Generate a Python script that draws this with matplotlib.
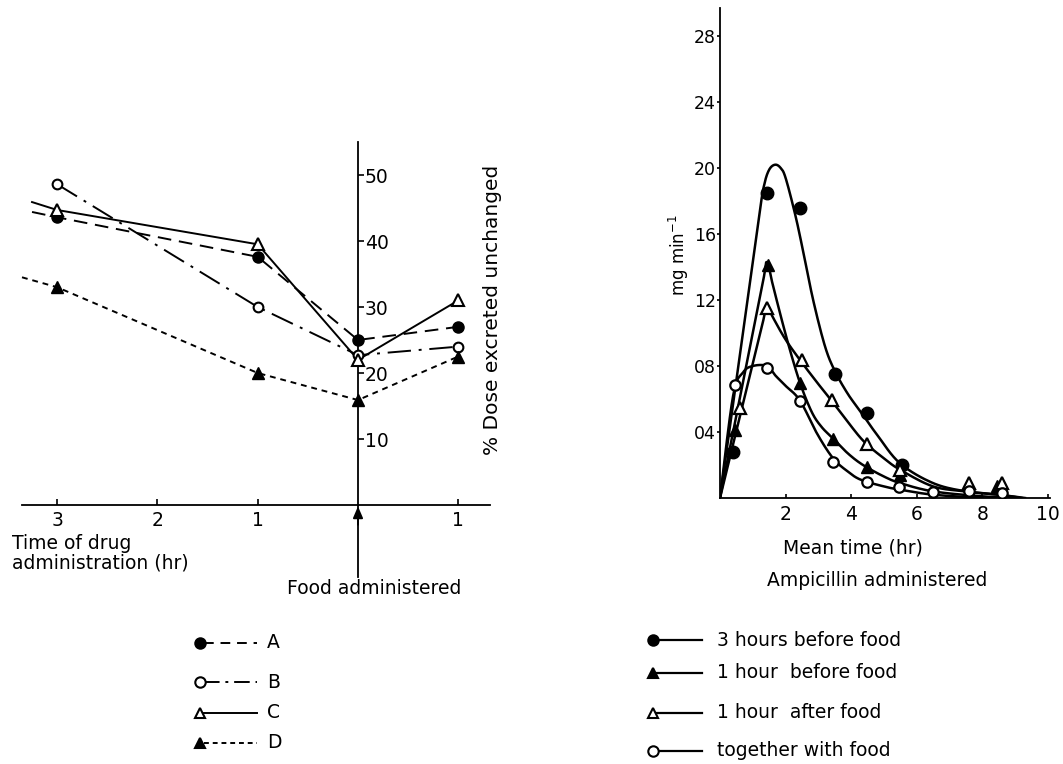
import numpy as np
import matplotlib
matplotlib.use("Agg")
import matplotlib.pyplot as plt

plt.rcParams['font.family'] = ['DejaVu Sans']

# ---------------- Left chart data ----------------
left_x = [-3, -1, 0, 1]
left_tick_pos = [-3, -2, -1, 1]
left_tick_labels = ['3', '2', '1', '1']
left_yticks = [10, 20, 30, 40, 50]
series_A = [43.6, 37.6, 25.0, 27.0]
series_B = [48.6, 30.0, 22.7, 24.0]
series_C = [44.7, 39.5, 22.0, 31.0]
series_D = [33.0, 20.0, 15.9, 22.5]
# where each drawn line starts (B starts at its first point)
lead_A = (-3.25, 44.4)
lead_C = (-3.25, 45.9)
lead_D = (-3.35, 34.5)
left_names = ['A', 'B', 'C', 'D']

# ---------------- Right chart data ----------------
right_xticks = [2, 4, 6, 8, 10]
right_yticks = [0.04, 0.08, 0.12, 0.16, 0.20, 0.24, 0.28]
right_ytick_labels = ['04', '08', '12', '16', '20', '24', '28']
right_names = ['3 hours before food', '1 hour  before food',
               '1 hour  after food', 'together with food']

p1_x = [0.4, 1.43, 2.44, 3.5, 4.48, 5.55]
p1_y = [0.028, 0.185, 0.176, 0.075, 0.0515, 0.020]
p2_x = [0.46, 1.47, 2.44, 3.45, 4.48, 5.5, 8.45]
p2_y = [0.041, 0.141, 0.0697, 0.0357, 0.0188, 0.014, 0.007]
p3_x = [0.61, 1.43, 2.5, 3.4, 4.48, 5.5, 7.6, 8.6]
p3_y = [0.0545, 0.115, 0.0836, 0.0594, 0.033, 0.017, 0.009, 0.009]
p4_x = [0.46, 1.43, 2.44, 3.45, 4.48, 5.45, 6.5, 7.6, 8.6]
p4_y = [0.0685, 0.079, 0.059, 0.0218, 0.0097, 0.0067, 0.0036, 0.004, 0.003]

c1_x = [0, 0.6, 1.2, 1.35, 1.5, 1.68, 1.85, 2.0, 2.29, 2.53, 2.84, 3.2, 3.5, 3.9, 4.3, 4.8, 5.49, 6.5, 7.5, 8.5, 9.2]
c1_y = [0, 0.086, 0.172, 0.19, 0.199, 0.202, 0.2, 0.194, 0.172, 0.150, 0.12, 0.092, 0.077, 0.063, 0.052, 0.038, 0.021, 0.009, 0.004, 0.002, 0.0]
c2_x = [0, 0.65, 1.3, 1.43, 1.6, 1.83, 2.1, 2.44, 2.8, 3.1, 3.45, 3.9, 4.36, 5.0, 5.5, 6.5, 8.0, 9.0]
c2_y = [0, 0.065, 0.13, 0.143, 0.13, 0.112, 0.092, 0.0697, 0.052, 0.043, 0.036, 0.027, 0.02, 0.013, 0.009, 0.004, 0.001, 0.0]
c3_x = [0, 0.7, 1.3, 1.43, 1.6, 2.0, 2.5, 3.0, 3.4, 3.9, 4.4, 5.0, 5.5, 6.5, 7.5, 8.5, 9.3]
c3_y = [0, 0.057, 0.106, 0.117, 0.11, 0.096, 0.082, 0.069, 0.059, 0.046, 0.034, 0.024, 0.017, 0.007, 0.004, 0.002, 0.0]
c4_x = [0, 0.4, 0.7, 1.0, 1.43, 1.7, 2.0, 2.44, 2.96, 3.45, 3.9, 4.3, 5.0, 5.5, 6.5, 8.0]
c4_y = [0, 0.062, 0.076, 0.08, 0.08, 0.074, 0.068, 0.059, 0.039, 0.024, 0.016, 0.011, 0.007, 0.005, 0.002, 0.0]


def smooth(xs, ys, n=16):
    P = np.column_stack([xs, ys]).astype(float)
    P = np.vstack([P[0], P, P[-1]])
    out = []
    t = np.linspace(0, 1, n, endpoint=False)[:, None]
    for i in range(1, len(P) - 2):
        p0, p1, p2, p3 = P[i - 1], P[i], P[i + 1], P[i + 2]
        seg = 0.5 * ((2 * p1) + (-p0 + p2) * t + (2 * p0 - 5 * p1 + 4 * p2 - p3) * t ** 2
                     + (-p0 + 3 * p1 - 3 * p2 + p3) * t ** 3)
        out.append(seg)
    out.append(P[-2][None, :])
    out = np.vstack(out)
    out[:, 1] = np.clip(out[:, 1], 0, None)
    return out[:, 0], out[:, 1]


W, H = 1063, 764
fig = plt.figure(figsize=(W / 100, H / 100), dpi=100)


def fx(px):
    return px / W


def fy(py):
    return 1 - py / H


TXT = 13.5
TICK = 13.5

# ---------------- Left axes ----------------
lx0, lx1 = -3.5, 1.5
ly0, ly1 = -12, 57
px_per_x = 100.3
px_per_y = 6.6
left_px = 358 + lx0 * px_per_x
right_px = 358 + lx1 * px_per_x
top_py = 505 - ly1 * px_per_y
bot_py = 505 - ly0 * px_per_y
ax1 = fig.add_axes([fx(left_px), fy(bot_py), (right_px - left_px) / W, (bot_py - top_py) / H])
ax1.set_xlim(lx0, lx1)
ax1.set_ylim(ly0, ly1)
ax1.patch.set_alpha(0)

for s in ['left', 'top']:
    ax1.spines[s].set_visible(False)
ax1.spines['bottom'].set_position(('data', 0))
ax1.spines['bottom'].set_bounds(-3.35, 1.32)
ax1.spines['right'].set_position(('data', 0))
ax1.spines['right'].set_bounds(-10.9, 55)
for s in ['bottom', 'right']:
    ax1.spines[s].set_linewidth(1.3)
ax1.yaxis.set_ticks_position('right')
ax1.set_yticks(left_yticks)
ax1.set_yticklabels([str(v) for v in left_yticks])
ax1.tick_params(axis='y', direction='out', length=4, width=1.2, pad=1, labelsize=TICK)
ax1.set_xticks(left_tick_pos)
ax1.set_xticklabels(left_tick_labels)
ax1.tick_params(axis='x', direction='in', length=4, width=1.2, pad=4, labelsize=TICK)

lw = 1.4
ax1.plot([lead_A[0]] + left_x, [lead_A[1]] + series_A, color='k', lw=lw,
         linestyle=(0, (7, 4)), zorder=2)
ax1.plot(left_x, series_A, linestyle='none', marker='o', ms=8, color='k', zorder=3)
ax1.plot(left_x, series_B, color='k', lw=lw, linestyle=(0, (12, 4, 1.5, 4)),
         marker='o', ms=7, mfc='white', mec='k', mew=1.5, zorder=3)
ax1.plot([lead_C[0]] + left_x, [lead_C[1]] + series_C, color='k', lw=lw, linestyle='-', zorder=2)
ax1.plot(left_x, series_C, linestyle='none', marker='^', ms=8, mfc='white', mec='k',
         mew=1.5, zorder=3)
ax1.plot([lead_D[0]] + left_x, [lead_D[1]] + series_D, color='k', lw=lw,
         linestyle=(0, (3, 2.5)), zorder=2)
ax1.plot(left_x, series_D, linestyle='none', marker='^', ms=8, color='k', zorder=3)

# food arrow pointing at the axis
ax1.annotate('', xy=(0, -0.2), xytext=(0, -3.0),
             arrowprops=dict(arrowstyle='-|>,head_length=0.7,head_width=0.3',
                             color='k', lw=1.3, shrinkA=0, shrinkB=0))

fig.text(fx(12), fy(553), 'Time of drug\nadministration (hr)', ha='left', va='center',
         fontsize=TXT, linespacing=1.05)
fig.text(fx(287), fy(588), 'Food administered', ha='left', va='center', fontsize=TXT)
fig.text(fx(492), fy(310), '% Dose excreted unchanged', rotation=90, ha='center',
         va='center', fontsize=14.5)

# ---------------- Right axes ----------------
rx0, rx1 = 0, 10.05
ry0, ry1 = 0, 0.297
ax2 = fig.add_axes([fx(720), fy(498), (rx1 * 32.8) / W, (ry1 * 1650) / H])
ax2.set_xlim(rx0, rx1)
ax2.set_ylim(ry0, ry1)
ax2.patch.set_alpha(0)
for s in ['right', 'top']:
    ax2.spines[s].set_visible(False)
for s in ['left', 'bottom']:
    ax2.spines[s].set_linewidth(1.3)
ax2.set_xticks(right_xticks)
ax2.set_xticklabels([str(v) for v in right_xticks])
ax2.tick_params(axis='x', direction='in', length=3, width=1.2, pad=5, labelsize=TICK)
ax2.set_yticks(right_yticks)
ax2.set_yticklabels(right_ytick_labels)
ax2.tick_params(axis='y', direction='out', length=2, width=1.2, pad=1, labelsize=12.5)

curves = [(c1_x, c1_y), (c2_x, c2_y), (c3_x, c3_y), (c4_x, c4_y)]
for cx, cy in curves:
    sx, sy = smooth(cx, cy)
    ax2.plot(sx, sy, color='k', lw=1.8, zorder=2)
ax2.plot(p1_x, p1_y, 'o', ms=9, color='k', zorder=3)
ax2.plot(p2_x, p2_y, '^', ms=9, color='k', zorder=3)
ax2.plot(p3_x, p3_y, '^', ms=8, mfc='white', mec='k', mew=1.6, zorder=3)
ax2.plot(p4_x, p4_y, 'o', ms=7.5, mfc='white', mec='k', mew=1.6, zorder=3)

fig.text(fx(679), fy(255), 'mg min$^{-1}$', rotation=90, ha='center', va='center',
         fontsize=12)
fig.text(fx(853), fy(548), 'Mean time (hr)', ha='center', va='center', fontsize=TXT)
fig.text(fx(877), fy(581), 'Ampicillin administered', ha='center', va='center', fontsize=TXT)

# ---------------- Legends (pixel overlay) ----------------
lg = fig.add_axes([0, 0, 1, 1])
lg.set_xlim(0, W)
lg.set_ylim(H, 0)
lg.axis('off')
lg.patch.set_alpha(0)

left_rows = [643, 682, 713, 743]
left_styles = [
    dict(ls=(0, (5, 3.5)), marker='o', mfc='k'),
    dict(ls=(0, (8, 3, 1.5, 3)), marker='o', mfc='white'),
    dict(ls='-', marker='^', mfc='white'),
    dict(ls=(0, (2.5, 2)), marker='^', mfc='k'),
]
for name, row, st in zip(left_names, left_rows, left_styles):
    lg.plot([204, 257], [row, row], color='k', lw=1.4, linestyle=st['ls'])
    lg.plot([200], [row], marker=st['marker'], ms=7.5, mfc=st['mfc'], mec='k', mew=1.5,
            color='k', linestyle='none')
    lg.text(267, row, name, ha='left', va='center', fontsize=TXT)

right_rows = [640, 673, 713, 751]
right_markers = [('o', 'k'), ('^', 'k'), ('^', 'white'), ('o', 'white')]
for name, row, (mk, fc) in zip(right_names, right_rows, right_markers):
    lg.plot([657, 702], [row, row], color='k', lw=1.6)
    lg.plot([653], [row], marker=mk, ms=7.5, mfc=fc, mec='k', mew=1.5, linestyle='none')
    lg.text(717, row, name, ha='left', va='center', fontsize=13.5)

fig.savefig('out.png', dpi=100)
